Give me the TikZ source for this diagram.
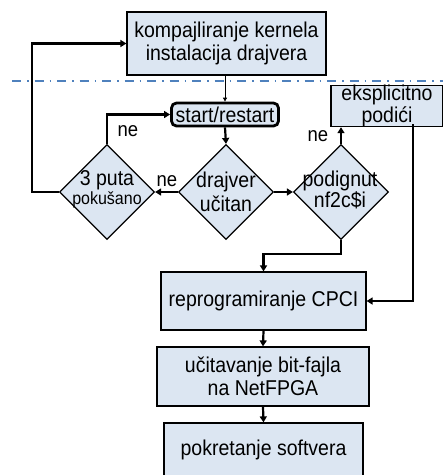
\documentclass[tikz,border=0pt]{standalone}
\usepackage{fontspec}
\usepackage{graphicx}
\setmainfont{Liberation Sans}
\usetikzlibrary{shapes.geometric,arrows.meta}
\definecolor{boxfill}{HTML}{DCE6F2}
\definecolor{dashblue}{HTML}{4F81BD}
\newcommand{\tl}[1]{\scalebox{1}[1.1]{#1}}
\begin{document}
\begin{tikzpicture}[x=1pt,y=-1pt,
  box/.style={draw=black,line width=1.2pt,fill=boxfill,inner sep=0pt,align=center,font=\fontsize{19.5}{23}\selectfont},
  dia/.style={diamond,draw=black,line width=1.2pt,fill=boxfill,inner sep=0pt,minimum width=95pt,minimum height=95pt,aspect=1},
  txt/.style={align=center,inner sep=0pt,font=\fontsize{19.5}{22}\selectfont},
  conn/.style={line width=2.2pt,-{Triangle[length=6pt,width=7pt]}},
  lbl/.style={inner sep=0pt,font=\fontsize{18.5}{20}\selectfont}]
\useasboundingbox (0,0) rectangle (443,475);
% boxes
\node[box,minimum width=199pt,minimum height=63pt] (top) at (226.5,43.5) {\tl{kompajliranje kernela}\\\tl{instalacija drajvera}};
\draw[dashblue,line width=1.5pt,dash pattern=on 9pt off 6pt on 1.5pt off 6pt] (12,81) -- (443,81);
\node[box,line width=2.8pt,rounded corners=5pt,minimum width=107pt,minimum height=23pt] (start) at (225,114.5) {\tl{start/restart}};
\node[box,minimum width=112pt,minimum height=36pt,font=\fontsize{19.5}{13.5}\selectfont] (eks) at (387,106) {\tl{eksplicitno}\\\tl{podići}};
\node[dia] (d1) at (107,192) {};
\node[dia] (d2) at (226,192) {};
\node[dia] (d3) at (341,192) {};
\node[txt] (t1) at (107,189) {\tl{3 puta}\\[-3pt]{\fontsize{16}{16}\selectfont\tl{pokušano}}};
\node[txt,font=\fontsize{19.5}{24}\selectfont] (t2) at (226,192) {\tl{drajver}\\\tl{učitan}};
\node[txt,font=\fontsize{19.5}{18}\selectfont] (t3) at (340,190) {\tl{podignut}\\\tl{nf2c\$i}};
\node[box,minimum width=205pt,minimum height=58pt] (rep) at (263.5,301) {\tl{reprogramiranje CPCI}};
\node[box,minimum width=212pt,minimum height=59pt] (uc) at (263,376.5) {\tl{učitavanje bit-fajla}\\\tl{na NetFPGA}};
\node[box,minimum width=199pt,minimum height=54pt] (pok) at (263.5,450) {\tl{pokretanje softvera}};
% coordinates
\coordinate (c1) at (32,192);
\coordinate (c2) at (341,254);
\coordinate (e1) at (413,124);
% connectors
\draw[line width=0.8pt,-{Triangle[length=4pt,width=4pt]}] (top.south -| start.north) -- (start.north);
\draw[conn] (start.south) -- (d2.north);
\draw[conn] (d2.west) -- (d1.east);
\draw[conn] (d2.east) -- (d3.west);
\draw[conn] (d1.north) |- (start.west);
\draw[conn] (d1.west) -- (c1) |- (top.west);
\draw[conn] (d3.north) -- (d3.north |- eks.south);
\draw[conn] (e1) |- (rep.east);
\draw[conn] (d3.south) -- (c2) -| (rep.north);
\draw[conn] (rep.south) -- (uc.north);
\draw[conn] (uc.south) -- (pok.north);
% labels
\node[lbl] (n1) at (167,181) {\tl{ne}};
\node[lbl] (n2) at (128,131) {\tl{ne}};
\node[lbl] (n3) at (318,136) {\tl{ne}};
\end{tikzpicture}
\end{document}
